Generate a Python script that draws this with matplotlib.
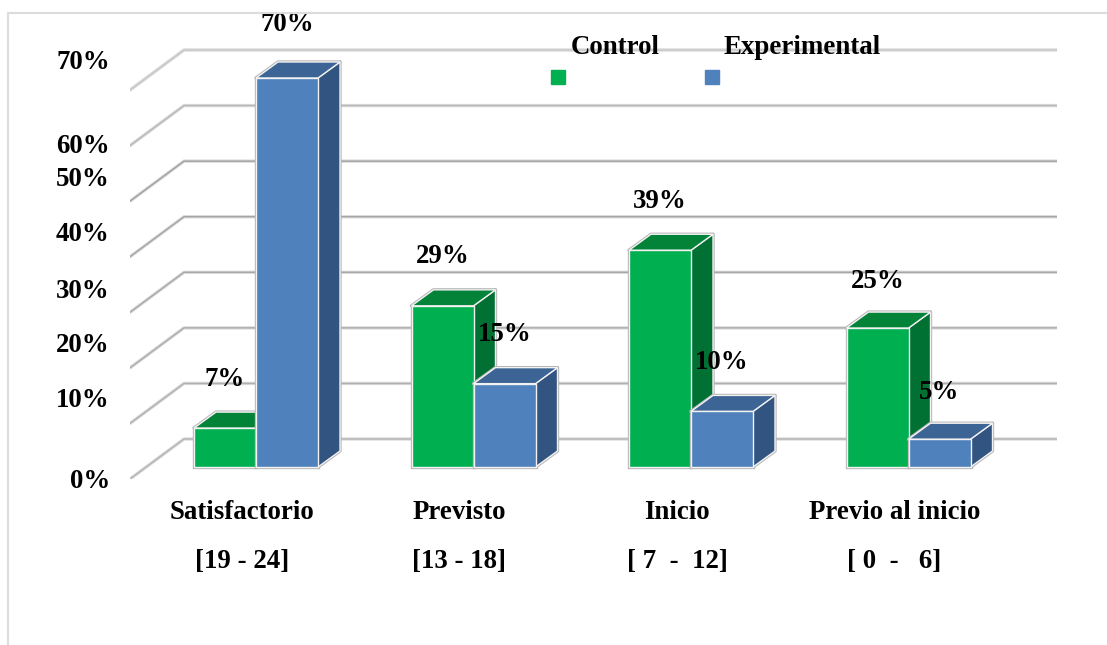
import matplotlib
matplotlib.use('Agg')
import matplotlib.pyplot as plt
import numpy as np
from matplotlib.lines import Line2D
from matplotlib.patches import Rectangle
from matplotlib.transforms import ScaledTranslation

categories = ['Satisfactorio\n\n[19 - 24]', 'Previsto\n\n[13 - 18]',
              'Inicio\n\n[ 7  -  12]', 'Previo al inicio\n\n[ 0  -   6]']
control = [7, 29, 39, 25]
experimental = [70, 15, 10, 5]
y_ticks = [0, 10, 20, 30, 40, 50, 60, 70]

# the tick labels in the original were moved by hand, shifts in pixels
tick_shift = [-12, 14, 13, 12, 13, 13, -10, 19]
control_lift = [49, 49, 49, 47]
experimental_lift = [54, 49, 49, 47]
# the lines do not all look the same in the original
line_core = ['#b4b4b4', '#b0b0b0', '#acacac', '#a8a8a8', '#a4a4a4', '#a0a0a0', '#b8b8b8', '#c8c8c8']

W, H = 1107, 645
px_x = 217.5   # pixels per category
px_y = 5.557   # pixels per percent
x0_px, y0_px = 256, 467  # where x=0, y=0 fall in the picture
bar_w = 62 / px_x
dx, dy = 22 / px_x, 16 / px_y

GREEN = ('#00B050', '#028338', '#017033')
BLUE = ('#4F81BD', '#3C6494', '#325480')

plt.rcParams['font.family'] = ['Liberation Serif', 'DejaVu Serif']
plt.rcParams['font.weight'] = 'bold'
plt.rcParams['font.size'] = 19.4

fig = plt.figure(figsize=(W / 100, H / 100), dpi=100)
left, right, top, bottom = 130, 1057, 20, 479
ax = fig.add_axes([left / W, 1 - bottom / H, (right - left) / W, (bottom - top) / H])
ax.set_xlim((left - x0_px) / px_x, (right - x0_px) / px_x)
ax.set_ylim((y0_px - bottom) / px_y, (y0_px - top) / px_y)
for s in ax.spines.values():
    s.set_visible(False)

# outer frame, only top and left
fig.add_artist(Line2D([8 / W, 8 / W, 1], [0, 1 - 13 / H, 1 - 13 / H], color='#dcdcdc', lw=1.5))

# back wall lines and the slanted part on the left
wall_up = 28 / px_y
front_down = 12 / px_y
wall_x = (184 - x0_px) / px_x
for v, core in zip(y_ticks, line_core):
    ax.plot([ax.get_xlim()[0], wall_x, ax.get_xlim()[1]],
            [v - front_down, v + wall_up, v + wall_up],
            color='#dadada', lw=2.4, zorder=1, solid_capstyle='round', solid_joinstyle='round')
    ax.plot([ax.get_xlim()[0], wall_x, ax.get_xlim()[1]],
            [v - front_down, v + wall_up, v + wall_up],
            color=core, lw=1.0, zorder=1.1, solid_capstyle='round', solid_joinstyle='round')


def draw_bar(x, h, colors, z):
    # side and top first, front face last
    side = np.array([[x + bar_w, 0], [x + bar_w + dx, dy], [x + bar_w + dx, h + dy], [x + bar_w, h]])
    roof = np.array([[x, h], [x + dx, h + dy], [x + bar_w + dx, h + dy], [x + bar_w, h]])
    ax.fill(side[:, 0], side[:, 1], facecolor='none', edgecolor='#b5b5b5', lw=2.4, zorder=z, joinstyle='round')
    ax.fill(roof[:, 0], roof[:, 1], facecolor='none', edgecolor='#b5b5b5', lw=2.4, zorder=z, joinstyle='round')
    ax.bar(x, h, bar_w, align='edge', color='none', edgecolor='#b5b5b5', lw=2.4, zorder=z)
    ax.fill(side[:, 0], side[:, 1], facecolor=colors[2], edgecolor='#f2f2f2', lw=1.0, zorder=z + 0.1)
    ax.fill(roof[:, 0], roof[:, 1], facecolor=colors[1], edgecolor='#f2f2f2', lw=1.0, zorder=z + 0.1)
    ax.bar(x, h, bar_w, align='edge', color=colors[0], edgecolor='#f2f2f2', lw=1.0, zorder=z + 0.2)


for i in range(len(categories)):
    draw_bar(i - bar_w, control[i], GREEN, 3 + i)
    draw_bar(i, experimental[i], BLUE, 3.5 + i)
    ax.annotate('%d%%' % control[i], (i - bar_w / 2, control[i]),
                xytext=(0, control_lift[i] * 0.72), textcoords='offset points',
                ha='center', va='center', zorder=20)
    ax.annotate('%d%%' % experimental[i], (i + bar_w / 2, experimental[i]),
                xytext=(0, experimental_lift[i] * 0.72), textcoords='offset points',
                ha='center', va='center', zorder=20, annotation_clip=False)

# ticks
ax.set_yticks(y_ticks, ['%d%%' % v for v in y_ticks])
ax.set_xticks(np.arange(len(categories)) - 14 / px_x, categories, linespacing=0.97)
ax.tick_params(axis='both', length=0)
ax.tick_params(axis='x', pad=15)
ax.tick_params(axis='y', pad=14.5)
for lab, s in zip(ax.get_yticklabels(), tick_shift):
    lab.set_transform(lab.get_transform() + ScaledTranslation(0, s * 0.72 / 72, fig.dpi_scale_trans))

# legend, names above the swatches like the original
for name, col, text_x, box_x in [('Control', GREEN[0], 615, 551), ('Experimental', BLUE[0], 802, 705)]:
    fig.text(text_x / W, 1 - 48 / H, name, ha='center', va='center', zorder=30)
    fig.add_artist(Rectangle((box_x / W, 1 - 84 / H), 14 / W, 14 / H, color=col, transform=fig.transFigure))

fig.savefig('out.png', dpi=100)
